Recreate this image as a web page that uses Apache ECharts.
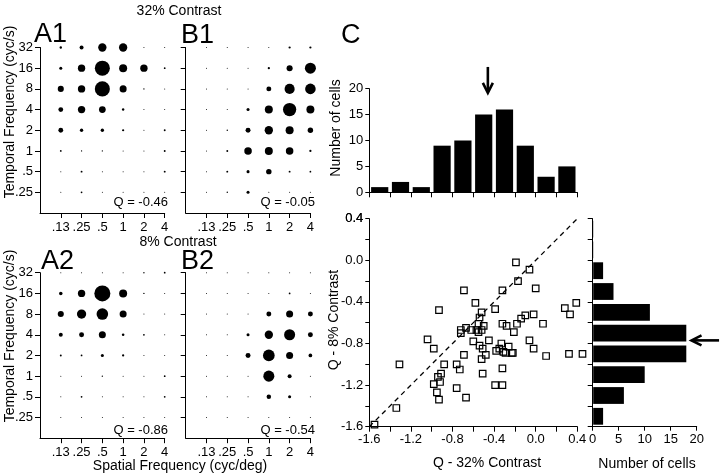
<!DOCTYPE html>
<html><head><meta charset="utf-8">
<script src="https://cdn.jsdelivr.net/npm/echarts@6/dist/echarts.min.js"></script>
<style>html,body{margin:0;padding:0;background:#fff}#c{width:720px;height:475px}</style>
</head><body><div id="c"></div>
<script>
// ---------- data ----------
const sfLabels = ['.13', '.25', '.5', '1', '2', '4'];            // spatial frequency (cyc/deg)
const tfLabels = ['.25', '.5', '1', '2', '4', '8', '16', '32'];  // temporal frequency (cyc/s)

// normalized responses, rows from TF 32 (top) down to .25, columns SF .13 ... 4
const respA1 = [
  [0.15, 0.25, 0.52, 0.52, 0.06, 0.05],
  [0.19, 0.46, 0.94, 0.50, 0.46, 0.11],
  [0.38, 0.46, 0.94, 0.44, 0.09, 0.05],
  [0.30, 0.46, 0.42, 0.15, 0.05, 0.05],
  [0.30, 0.21, 0.21, 0.14, 0.05, 0.12],
  [0.11, 0.08, 0.08, 0.05, 0.05, 0.12],
  [0.05, 0.12, 0.05, 0.05, 0.05, 0.12],
  [0.05, 0.11, 0.05, 0.05, 0.05, 0.05]
];
const respB1 = [
  [0.05, 0.05, 0.05, 0.05, 0.14, 0.14],
  [0.05, 0.06, 0.05, 0.14, 0.38, 0.69],
  [0.05, 0.05, 0.06, 0.31, 0.63, 0.66],
  [0.05, 0.05, 0.19, 0.50, 0.83, 0.50],
  [0.05, 0.09, 0.31, 0.52, 0.50, 0.34],
  [0.06, 0.12, 0.47, 0.50, 0.47, 0.14],
  [0.05, 0.12, 0.19, 0.34, 0.12, 0.11],
  [0.05, 0.09, 0.19, 0.06, 0.05, 0.05]
];
const respA2 = [
  [0.05, 0.06, 0.06, 0.05, 0.09, 0.11],
  [0.22, 0.46, 1.00, 0.50, 0.09, 0.05],
  [0.38, 0.58, 0.72, 0.44, 0.05, 0.05],
  [0.25, 0.31, 0.44, 0.16, 0.11, 0.05],
  [0.12, 0.11, 0.19, 0.14, 0.05, 0.05],
  [0.05, 0.05, 0.09, 0.05, 0.05, 0.11],
  [0.05, 0.11, 0.05, 0.05, 0.05, 0.11],
  [0.05, 0.05, 0.05, 0.05, 0.05, 0.05]
];
const respB2 = [
  [0.05, 0.05, 0.05, 0.05, 0.05, 0.05],
  [0.05, 0.05, 0.05, 0.05, 0.11, 0.05],
  [0.05, 0.05, 0.05, 0.31, 0.44, 0.31],
  [0.05, 0.05, 0.19, 0.52, 0.69, 0.31],
  [0.05, 0.05, 0.31, 0.73, 0.44, 0.23],
  [0.05, 0.05, 0.06, 0.69, 0.25, 0.06],
  [0.05, 0.05, 0.05, 0.28, 0.19, 0.05],
  [0.05, 0.05, 0.05, 0.06, 0.05, 0.05]
];
const qValues = ['-0.46', '-0.05', '-0.86', '-0.54'];

// Q indices per cell
const q32 = [-1.55,-1.34,-1.31,-1.04,-0.98,-0.93,-0.98,-0.94,-0.91,-0.92,-0.95,-0.93,-0.88,-0.76,-0.76,-0.73,-0.72,-0.72,-0.69,-0.69,-0.67,-0.67,-0.62,-0.60,-0.58,-0.57,-0.55,-0.54,-0.52,-0.54,-0.52,-0.51,-0.52,-0.51,-0.50,-0.48,-0.45,-0.39,-0.39,-0.38,-0.35,-0.33,-0.32,-0.32,-0.32,-0.32,-0.31,-0.28,-0.26,-0.29,-0.23,-0.22,-0.21,-0.19,-0.18,-0.17,-0.14,-0.10,-0.06,-0.06,-0.02,-0.02,0.00,0.07,0.10,0.28,0.33,0.39,0.32,0.45,-0.55];
const q8  = [-1.58,-1.42,-1.00,-0.76,-0.85,-0.48,-1.19,-1.12,-1.09,-1.17,-1.27,-1.34,-1.00,-1.23,-1.00,-1.05,-0.70,-0.67,-0.91,-0.29,-0.65,-1.32,-0.67,-0.78,-0.41,-0.67,-0.61,-0.55,-0.50,-0.82,-0.67,-0.85,-0.95,-1.09,-0.63,-0.91,-0.77,-0.47,-1.20,-0.87,-0.85,-0.80,-1.20,-1.04,-0.61,-0.29,-0.88,-0.63,-0.83,-0.89,-0.89,-0.89,-0.69,-0.02,-0.61,-0.20,-0.56,-0.53,-0.09,-0.77,-0.52,-0.85,-0.27,-0.61,-0.92,-0.46,-0.52,-0.41,-0.90,-0.90,-0.69];

const binStarts = [-1.6, -1.4, -1.2, -1.0, -0.8, -0.6, -0.4, -0.2, 0.0, 0.2];
const countsQ32 = [1, 2, 1, 9, 10, 15, 16, 9, 3, 5];
const countsQ8  = [2, 6, 10, 18, 18, 11, 4, 2, 0, 0];
const meanQ32 = -0.46;
const meanQ8 = -0.77;
const qTicks = [-1.6, -1.4, -1.2, -1.0, -0.8, -0.6, -0.4, -0.2, 0.0, 0.2, 0.4];
const qLabelTicks = [-1.6, -1.2, -0.8, -0.4, 0.0, 0.4];

// ---------- chart ----------
const FONT = '"Liberation Sans", Arial, sans-serif';
const MAXD = 16;
const black = '#000';

function bubbleData(mat) {
  const out = [];
  mat.forEach((row, ri) => {
    const tfIdx = tfLabels.length - 1 - ri;
    row.forEach((v, ci) => out.push([ci, tfIdx, v]));
  });
  return out;
}

const bubbleGrids = [
  {left: 40, top: 47.5, width: 124.7, height: 165.5},
  {left: 185.7, top: 47.5, width: 124.7, height: 165.5},
  {left: 40, top: 272.7, width: 124.7, height: 165.5},
  {left: 185.7, top: 272.7, width: 124.7, height: 165.5}
];
const grids = bubbleGrids.concat([
  {left: 369.3, top: 88.7, width: 208, height: 103.6},   // top hist
  {left: 369.3, top: 218.7, width: 208, height: 208},    // scatter
  {left: 592.7, top: 218.7, width: 104, height: 208}     // right hist
]);

const lineS = {color: black, width: 1};
const xAxes = [], yAxes = [], series = [];

bubbleGrids.forEach((g, i) => {
  xAxes.push({
    gridIndex: i, type: 'value', min: -1, max: 5, interval: 1,
    axisLine: {show: true, onZero: false, lineStyle: lineS},
    axisTick: {show: true, length: 5, lineStyle: lineS, customValues: [0, 1, 2, 3, 4, 5]},
    axisLabel: {show: true, color: black, fontSize: 13, fontFamily: FONT, margin: 8,
      customValues: [0, 1, 2, 3, 4, 5],
      formatter: v => (v >= 0 && v < sfLabels.length) ? sfLabels[Math.round(v)] : ''},
    splitLine: {show: false}
  });
  yAxes.push({
    gridIndex: i, type: 'value', min: -1, max: 7, interval: 1,
    axisLine: {show: true, onZero: false, lineStyle: lineS},
    axisTick: {show: true, length: 5, lineStyle: lineS, customValues: [0, 1, 2, 3, 4, 5, 6, 7]},
    axisLabel: {show: i % 2 === 0, color: black, fontSize: 13, fontFamily: FONT, margin: 7,
      customValues: [0, 1, 2, 3, 4, 5, 6, 7],
      formatter: v => (v >= 0 && v < tfLabels.length) ? tfLabels[Math.round(v)] : ''},
    splitLine: {show: false}
  });
});
[respA1, respB1, respA2, respB2].forEach((m, i) => {
  series.push({
    type: 'scatter', xAxisIndex: i, yAxisIndex: i, symbol: 'circle',
    data: bubbleData(m),
    symbolSize: d => Math.max(d[2] * MAXD, 1),
    itemStyle: {color: black, opacity: 1}, silent: true
  });
});

const fmtQ = v => {
  const vv = Math.abs(v) < 1e-9 ? 0 : v;
  return vv.toFixed(1);
};

// top histogram axes (index 4)
xAxes.push({
  gridIndex: 4, type: 'value', min: -1.6, max: 0.4, interval: 0.2,
  axisLine: {show: true, onZero: false, lineStyle: lineS},
  axisTick: {show: true, length: 5, lineStyle: lineS, customValues: qTicks},
  axisLabel: {show: false}, splitLine: {show: false}
});
yAxes.push({
  gridIndex: 4, type: 'value', min: 0, max: 20, interval: 5,
  axisLine: {show: true, onZero: false, lineStyle: lineS},
  axisTick: {show: true, length: 4, lineStyle: lineS},
  axisLabel: {color: black, fontSize: 13, fontFamily: FONT, margin: 6},
  splitLine: {show: false}
});
// scatter axes (index 5)
xAxes.push({
  gridIndex: 5, type: 'value', min: -1.6, max: 0.4, interval: 0.2,
  axisLine: {show: true, onZero: false, lineStyle: lineS},
  axisTick: {show: true, length: 5, lineStyle: lineS, customValues: qTicks},
  axisLabel: {color: black, fontSize: 13, fontFamily: FONT, margin: 6, formatter: fmtQ, customValues: qLabelTicks},
  splitLine: {show: false}
});
yAxes.push({
  gridIndex: 5, type: 'value', min: -1.6, max: 0.4, interval: 0.2,
  axisLine: {show: true, onZero: false, lineStyle: lineS},
  axisTick: {show: true, length: 4, lineStyle: lineS, customValues: qTicks},
  axisLabel: {color: black, fontSize: 13, fontFamily: FONT, margin: 6, formatter: fmtQ, customValues: qLabelTicks},
  splitLine: {show: false}
});
// right histogram axes (index 6)
xAxes.push({
  gridIndex: 6, type: 'value', min: 0, max: 20, interval: 5,
  axisLine: {show: true, onZero: false, lineStyle: lineS},
  axisTick: {show: true, length: 4, lineStyle: lineS},
  axisLabel: {color: black, fontSize: 13, fontFamily: FONT, margin: 6},
  splitLine: {show: false}
});
yAxes.push({
  gridIndex: 6, type: 'value', min: -1.6, max: 0.4, interval: 0.2,
  axisLine: {show: true, onZero: false, lineStyle: lineS},
  axisTick: {show: true, length: 5, lineStyle: lineS, customValues: qTicks},
  axisLabel: {show: false}, splitLine: {show: false}
});

// top histogram bars
series.push({
  type: 'custom', xAxisIndex: 4, yAxisIndex: 4, silent: true,
  data: binStarts.map((b, i) => [b, countsQ32[i]]),
  renderItem: (params, api) => {
    const p0 = api.coord([api.value(0), 0]);
    const p1 = api.coord([api.value(0) + 0.2, api.value(1)]);
    return {type: 'rect', shape: {x: p0[0] + 1.8, y: p1[1], width: p1[0] - p0[0] - 3.6, height: p0[1] - p1[1]},
      style: {fill: black}};
  }
});
// right histogram bars
series.push({
  type: 'custom', xAxisIndex: 6, yAxisIndex: 6, silent: true,
  data: binStarts.map((b, i) => [countsQ8[i], b]),
  renderItem: (params, api) => {
    const p0 = api.coord([0, api.value(1)]);
    const p1 = api.coord([api.value(0), api.value(1) + 0.2]);
    return {type: 'rect', shape: {x: p0[0] + 0.5, y: p1[1] + 2, width: p1[0] - p0[0] - 0.5, height: p0[1] - p1[1] - 4},
      style: {fill: black}};
  }
});
// identity line
series.push({
  type: 'line', xAxisIndex: 5, yAxisIndex: 5, silent: true, symbol: 'none',
  data: [[-1.6, -1.6], [0.4, 0.4]],
  lineStyle: {color: black, width: 1.3, type: [5, 4]}
});
// scatter of Q values
series.push({
  type: 'scatter', xAxisIndex: 5, yAxisIndex: 5, silent: true, clip: false,
  symbol: 'rect', symbolSize: 6.5,
  data: q32.map((x, i) => [x, q8[i]]),
  itemStyle: {color: 'rgba(0,0,0,0)', borderColor: black, borderWidth: 1.2, opacity: 1}
});

function txt(x, y, s, size, align, rot) {
  return {type: 'text', x: x, y: y, rotation: rot || 0, silent: true,
    style: {text: s, fill: black, font: size + 'px ' + FONT, align: align || 'left', verticalAlign: 'middle'}};
}

const graphics = [
  txt(179, 11, '32% Contrast', 14, 'center'),
  txt(178, 242, '8% Contrast', 14, 'center'),
  txt(34, 35, 'A1', 27), txt(181, 36, 'B1', 27),
  txt(41, 262, 'A2', 27), txt(181, 262, 'B2', 27),
  txt(341, 36, 'C', 27),
  txt(10, 112, 'Temporal Frequency (cyc/s)', 14, 'center', Math.PI / 2),
  txt(10, 336, 'Temporal Frequency (cyc/s)', 14, 'center', Math.PI / 2),
  txt(180, 466, 'Spatial Frequency (cyc/deg)', 14, 'center'),
  txt(336, 128, 'Number of cells', 14, 'center', Math.PI / 2),
  txt(334, 320, 'Q - 8% Contrast', 14, 'center', Math.PI / 2),
  txt(487, 463, 'Q - 32% Contrast', 14, 'center'),
  txt(647, 464, 'Number of cells', 14, 'center'),
  txt(168, 202, 'Q = ' + qValues[0], 13, 'right'),
  txt(315, 202, 'Q = ' + qValues[1], 13, 'right'),
  txt(168, 430, 'Q = ' + qValues[2], 13, 'right'),
  txt(315, 430, 'Q = ' + qValues[3], 13, 'right')
];

const chart = echarts.init(document.getElementById('c'), null, {renderer: 'canvas'});
chart.setOption({
  animation: false,
  backgroundColor: '#fff',
  textStyle: {fontFamily: FONT},
  grid: grids, xAxis: xAxes, yAxis: yAxes, series: series,
  graphic: graphics
});

// top label of the Q-8% axis (ECharts drops the label at this axis end), placed through the axis
const topQ = qLabelTicks[qLabelTicks.length - 1];
const pTopLbl = chart.convertToPixel({xAxisIndex: 5, yAxisIndex: 5}, [-1.6, topQ]);
graphics.push(txt(pTopLbl[0] - 6, pTopLbl[1], fmtQ(topQ), 13, 'right'));

// mean arrows, positioned through the axes
const tTail = chart.convertToPixel({xAxisIndex: 4, yAxisIndex: 4}, [meanQ32, 24.2]);
const tTip = chart.convertToPixel({xAxisIndex: 4, yAxisIndex: 4}, [meanQ32, 19.2]);
const rTip = chart.convertToPixel({xAxisIndex: 6, yAxisIndex: 6}, [19.0, meanQ8]);
const rTail = chart.convertToPixel({xAxisIndex: 6, yAxisIndex: 6}, [24.3, meanQ8]);
const arrowStyle = {stroke: black, lineWidth: 2.6, fill: null};
graphics.push(
  {type: 'line', silent: true, shape: {x1: tTail[0], y1: tTail[1], x2: tTip[0], y2: tTip[1] - 1}, style: arrowStyle},
  {type: 'polyline', silent: true, shape: {points: [[tTip[0] - 5, tTip[1] - 10], [tTip[0], tTip[1]], [tTip[0] + 5, tTip[1] - 10]]}, style: arrowStyle},
  {type: 'line', silent: true, shape: {x1: rTail[0], y1: rTail[1], x2: rTip[0] + 1, y2: rTip[1]}, style: arrowStyle},
  {type: 'polyline', silent: true, shape: {points: [[rTip[0] + 10, rTip[1] - 5], [rTip[0], rTip[1]], [rTip[0] + 10, rTip[1] + 5]]}, style: arrowStyle}
);
chart.setOption({graphic: graphics}, {replaceMerge: ['graphic']});
</script>
</body></html>
